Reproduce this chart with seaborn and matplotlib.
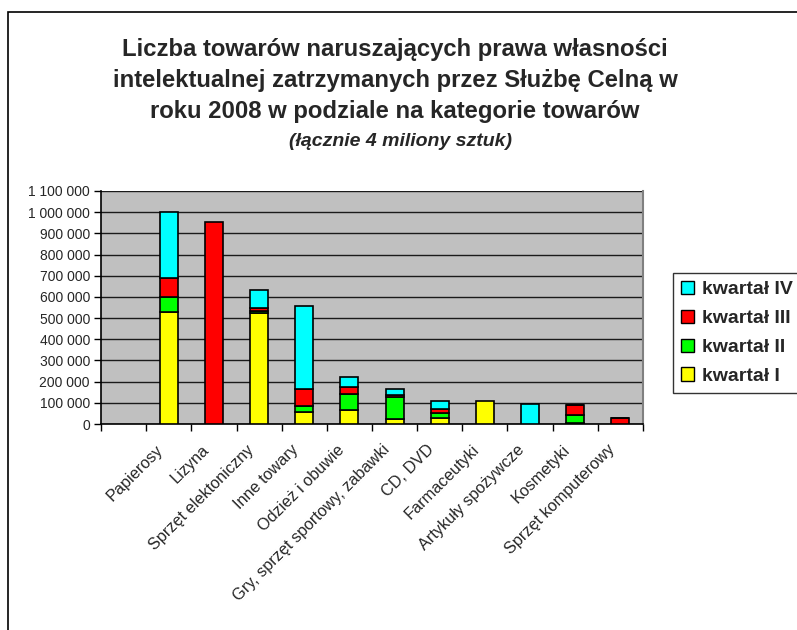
import matplotlib
matplotlib.use("Agg")
import matplotlib.pyplot as plt
import matplotlib.patches as mpatches
import matplotlib.transforms as mtransforms
from matplotlib.ticker import FixedLocator, FuncFormatter
import numpy as np
import pandas as pd
import seaborn as sns

# ------------------------------------------
# DATA
# ------------------------------------------

categories = ["", "Papierosy", "Lizyna", "Sprzęt elektoniczny", "Inne towary",
              "Odzież i obuwie", "Gry, sprzęt sportowy, zabawki", "CD, DVD",
              "Farmaceutyki", "Artykuły spożywcze", "Kosmetyki", "Sprzęt komputerowy"]

q1 = [0, 530000, 0, 523000, 55000, 64000, 22000, 28000, 110000, 0, 3000, 1000]
q2 = [0, 69000, 0, 11000, 28000, 77000, 107000, 22000, 0, 0, 39000, 1000]
q3 = [0, 88000, 953000, 12000, 82000, 32000, 8000, 22000, 0, 0, 46000, 26000]
q4 = [0, 316000, 0, 86000, 393000, 50000, 28000, 38000, 0, 94000, 3000, 2000]

series_names = ["kwartał I", "kwartał II", "kwartał III", "kwartał IV"]
series_colors = ["#FFFF00", "#00FF00", "#FF0000", "#00FFFF"]

title_lines = ["Liczba towarów naruszających prawa własności",
               "intelektualnej zatrzymanych przez Służbę Celną w",
               "roku 2008 w podziale na kategorie towarów"]
subtitle = "(łącznie 4 miliony sztuk)"

y_ticks = list(range(0, 1100001, 100000))

# ------------------------------------------
# PLOT
# ------------------------------------------

sns.set_theme(style="white")
plt.rcParams['font.family'] = ['Liberation Sans', 'DejaVu Sans']

fig = plt.figure(figsize=(7.97, 6.30), dpi=100)
ax = fig.add_axes([101 / 797, 1 - 424 / 630, 542 / 797, 233 / 630])
ax.set_facecolor("#C0C0C0")

df = pd.DataFrame({"cat": categories, "q1": q1, "q2": q2, "q3": q3, "q4": q4})

bottom = np.zeros(len(df))
for col, name, color in zip(["q1", "q2", "q3", "q4"], series_names, series_colors):
    sns.barplot(x="cat", y=col, data=df, order=categories, bottom=bottom,
                color=color, width=0.4, edgecolor="black", linewidth=1.2,
                saturation=1, ax=ax, zorder=3)
    bottom = bottom + df[col].values

# empty segments should not leave a black edge line behind
for p in ax.patches:
    if p.get_height() == 0:
        p.set_visible(False)

ax.set_ylim(0, 1100000)
ax.set_xlim(-0.5, len(categories) - 0.5)
ax.yaxis.set_major_locator(FixedLocator(y_ticks))
ax.yaxis.set_major_formatter(FuncFormatter(lambda v, p: f"{int(v):,}".replace(",", " ")))
ax.grid(axis="y", color="#1a1a1a", linewidth=1, zorder=0)
ax.grid(axis="x", visible=False)
ax.set_axisbelow(True)

# category ticks at the boundaries, labels at the centres
ax.set_xticks(np.arange(len(categories) + 1) - 0.5)
ax.set_xticklabels([])
ax.set_xticks(np.arange(len(categories)), minor=True)
ax.set_xticklabels(categories, minor=True, rotation=45, ha="right",
                   rotation_mode="anchor", fontsize=11.7)
ax.tick_params(axis="x", which="minor", length=0, pad=13)
ax.tick_params(axis="x", which="major", length=5, width=1, color="black",
               direction="out", bottom=True)
ax.tick_params(axis="y", length=5, width=1, color="black", direction="out",
               left=True, labelsize=10, pad=3)
ax.set_xlabel("")
ax.set_ylabel("")

shift = mtransforms.ScaledTranslation(-13 / 100, 0, fig.dpi_scale_trans)
for lbl in ax.get_xticklabels(minor=True):
    lbl.set_transform(lbl.get_transform() + shift)

for side in ["left", "bottom"]:
    ax.spines[side].set_color("black")
    ax.spines[side].set_linewidth(1.2)
ax.spines["top"].set_visible(False)
ax.spines["right"].set_color("#808080")
ax.spines["right"].set_linewidth(1.5)

# title
title_y = [56, 87, 118]
for line, yy in zip(title_lines, title_y):
    fig.text(395 / 797, 1 - yy / 630, line, ha="center", va="baseline",
             fontsize=17.2, fontweight="bold")
fig.text(400 / 797, 1 - 146 / 630, subtitle, ha="center", va="baseline",
         fontsize=14, fontweight="bold", style="italic")

# legend (top entry = last series)
handles = [mpatches.Patch(facecolor=c, edgecolor="black", linewidth=1)
           for c in series_colors][::-1]
leg = fig.legend(handles, series_names[::-1], loc="upper left",
                 bbox_to_anchor=(673 / 797, 1 - 273 / 630), borderaxespad=0,
                 frameon=True, fancybox=False, edgecolor="black",
                 prop={"weight": "bold", "size": 14}, handlelength=0.7,
                 handleheight=0.7, handletextpad=0.4, labelspacing=0.58,
                 borderpad=0.4)
leg.get_frame().set_linewidth(1)

# outer frame of the chart area
fig.patches.append(mpatches.Rectangle((8 / 797, -0.01), 1.0, 1 - 12 / 630 + 0.01,
                                      transform=fig.transFigure, fill=False,
                                      edgecolor="black", linewidth=1.2))

fig.savefig("out.png", dpi=100)
